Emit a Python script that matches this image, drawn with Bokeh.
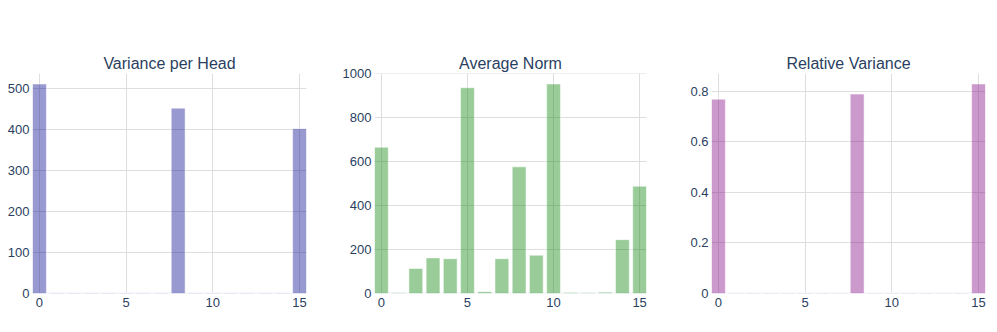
from bokeh.plotting import figure
from bokeh.layouts import row
from bokeh.models import Range1d, FixedTicker, Span, Title
from bokeh.embed import file_html
from bokeh.resources import INLINE

heads = list(range(16))
variance_per_head = [511, 1, 1, 1, 1, 1, 1, 1, 452, 1, 1, 1, 1, 1, 1, 402]
average_norm = [665, 3, 114, 162, 158, 936, 8, 158, 576, 174, 953, 4, 3, 6, 245, 488]
relative_variance = [0.768, 0.002, 0.002, 0.002, 0.002, 0.002, 0.002, 0.002, 0.788,
                     0.002, 0.002, 0.002, 0.002, 0.002, 0.002, 0.828]

titles = ["Variance per Head", "Average Norm", "Relative Variance"]
colors = ["darkblue", "green", "purple"]
x_ticks = [0, 5, 10, 15]
y_ticks = [[0, 100, 200, 300, 400, 500],
           [0, 200, 400, 600, 800, 1000],
           [0, 0.2, 0.4, 0.6, 0.8]]
series = [variance_per_head, average_norm, relative_variance]

FONT = "Liberation Sans"
TXT = "#2a3f5f"
GRID = "#dedede"

# (border_left, frame_width, border_right)
geoms = [(32, 274, 33), (32, 275, 32), (33, 274, 4)]

figs = []
for i in range(3):
    bl, fw, br = geoms[i]
    vals = series[i]
    p = figure(width=bl + fw + br, height=324, output_backend="svg",
               toolbar_location=None, tools="",
               x_range=Range1d(-0.4, 15.4),
               y_range=Range1d(0, max(vals) * 1.05),
               min_border_left=bl, min_border_right=br,
               min_border_top=73, min_border_bottom=31)
    p.outline_line_color = None
    p.background_fill_color = "white"
    p.border_fill_color = "white"

    t = Title(text=titles[i], align="center", text_font=FONT, text_font_size="16px",
              text_color=TXT, text_font_style="normal", standoff=3)
    p.add_layout(t, "above")

    p.xaxis.ticker = FixedTicker(ticks=x_ticks)
    p.yaxis.ticker = FixedTicker(ticks=y_ticks[i])
    p.xgrid.ticker = FixedTicker(ticks=x_ticks)
    p.ygrid.ticker = FixedTicker(ticks=[v for v in y_ticks[i] if v != 0])
    for ax in (p.xaxis, p.yaxis):
        ax.axis_line_color = None
        ax.major_tick_line_color = None
        ax.minor_tick_line_color = None
        ax.major_tick_out = 0
        ax.major_tick_in = 0
        ax.major_label_text_font = FONT
        ax.major_label_text_font_size = "13px"
        ax.major_label_text_color = TXT
    p.yaxis.major_label_standoff = 3
    p.xaxis.major_label_standoff = 4
    p.yaxis.major_label_overrides = {0: "0"}
    p.xgrid.grid_line_color = GRID
    p.ygrid.grid_line_color = GRID

    zero = Span(location=0, dimension="width", line_color="#EBF0F8", line_width=2,
                level="underlay")
    p.add_layout(zero)

    p.vbar(x=heads, top=vals, width=0.8, bottom=0,
           fill_color=colors[i], fill_alpha=0.4,
           line_color="white", line_width=0.5)
    figs.append(p)

layout = row(*figs, spacing=0)
open("out.html", "w").write(file_html(layout, INLINE))
